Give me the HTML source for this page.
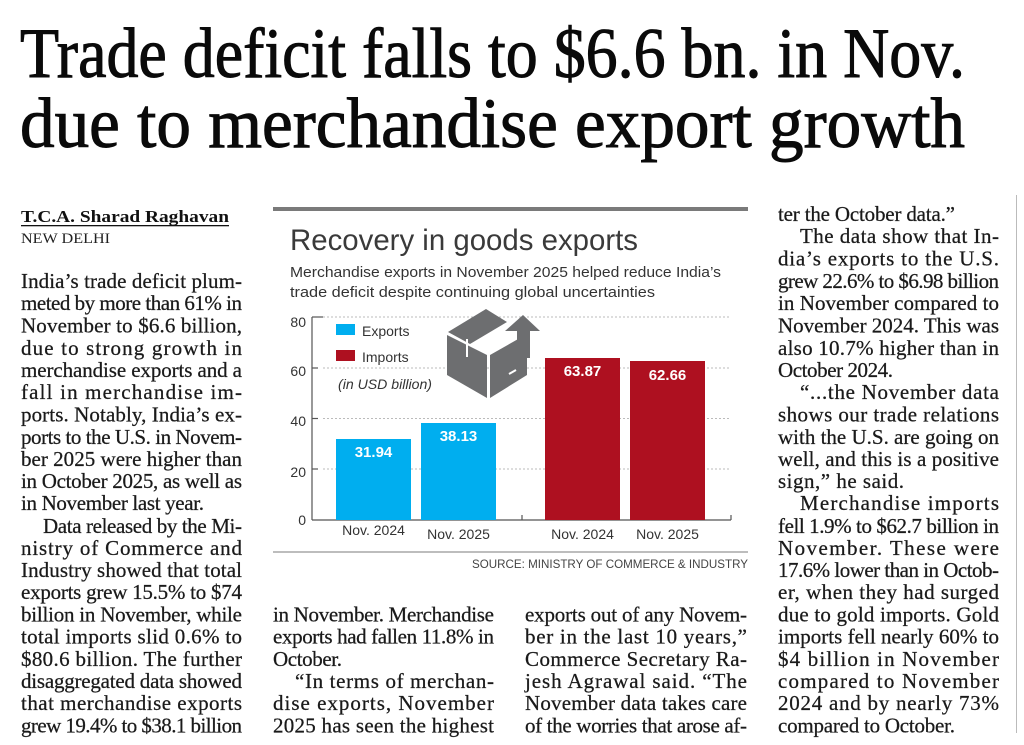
<!DOCTYPE html>
<html><head><meta charset="utf-8"><style>
html,body{margin:0;padding:0;background:#fff;}
svg{display:block;}
.b{font-family:"Liberation Serif",serif;font-size:21px;fill:#1a1a1a;stroke:#1a1a1a;stroke-width:0.25;}
.s{font-family:"Liberation Sans",sans-serif;}
</style></head><body>
<svg width="1024" height="745" viewBox="0 0 1024 745" xmlns="http://www.w3.org/2000/svg">
<rect width="1024" height="745" fill="#fff"/>
<!-- headline -->
<g font-family="Liberation Serif,serif" font-size="71" fill="#0a0a0a" stroke="#0a0a0a" stroke-width="1">
<text x="20" y="77" textLength="945" lengthAdjust="spacingAndGlyphs">Trade deficit falls to $6.6 bn. in Nov.</text>
<text x="20" y="147" textLength="945" lengthAdjust="spacingAndGlyphs">due to merchandise export growth</text>
</g>
<!-- byline -->
<text x="21" y="222" font-family="Liberation Serif,serif" font-weight="bold" font-size="17" fill="#111" textLength="208" lengthAdjust="spacingAndGlyphs">T.C.A. Sharad Raghavan</text>
<rect x="21" y="225" width="208" height="1.3" fill="#111"/>
<text x="21" y="243" font-family="Liberation Serif,serif" font-size="15" fill="#222" textLength="89" lengthAdjust="spacingAndGlyphs">NEW DELHI</text>
<!-- column rule -->
<rect x="1016" y="195" width="1" height="538" fill="#bbb"/>

<g class="b">
<!-- left column -->
<text x="21" y="288" textLength="221">India’s trade deficit plum-</text>
<text x="21" y="310" textLength="221">meted by more than 61% in</text>
<text x="21" y="332.5" textLength="221">November to $6.6 billion,</text>
<text x="21" y="355" textLength="221">due to strong growth in</text>
<text x="21" y="377" textLength="221">merchandise exports and a</text>
<text x="21" y="399" textLength="221">fall in merchandise im-</text>
<text x="21" y="421.5" textLength="221">ports. Notably, India’s ex-</text>
<text x="21" y="444" textLength="221">ports to the U.S. in Novem-</text>
<text x="21" y="466" textLength="221">ber 2025 were higher than</text>
<text x="21" y="488" textLength="221">in October 2025, as well as</text>
<text x="21" y="510" textLength="183">in November last year.</text>
<text x="43" y="533" textLength="199">Data released by the Mi-</text>
<text x="21" y="555" textLength="221">nistry of Commerce and</text>
<text x="21" y="577" textLength="221">Industry showed that total</text>
<text x="21" y="599" textLength="221">exports grew 15.5% to $74</text>
<text x="21" y="621.5" textLength="221">billion in November, while</text>
<text x="21" y="643.5" textLength="221">total imports slid 0.6% to</text>
<text x="21" y="666" textLength="221">$80.6 billion. The further</text>
<text x="21" y="688" textLength="221">disaggregated data showed</text>
<text x="21" y="710" textLength="221">that merchandise exports</text>
<text x="21" y="732.5" textLength="221">grew 19.4% to $38.1 billion</text>
<!-- middle col 1 -->
<text x="273" y="621.5" textLength="221">in November. Merchandise</text>
<text x="273" y="643.5" textLength="221">exports had fallen 11.8% in</text>
<text x="273" y="666" textLength="69">October.</text>
<text x="295" y="688" textLength="199">“In terms of merchan-</text>
<text x="273" y="710" textLength="221">dise exports, November</text>
<text x="273" y="732.5" textLength="221">2025 has seen the highest</text>
<!-- middle col 2 -->
<text x="525" y="621.5" textLength="222">exports out of any Novem-</text>
<text x="525" y="643.5" textLength="222">ber in the last 10 years,”</text>
<text x="525" y="666" textLength="222">Commerce Secretary Ra-</text>
<text x="525" y="688" textLength="222">jesh Agrawal said. “The</text>
<text x="525" y="710" textLength="222">November data takes care</text>
<text x="525" y="732.5" textLength="222">of the worries that arose af-</text>
<!-- right column -->
<text x="778" y="221" textLength="177">ter the October data.”</text>
<text x="800" y="243" textLength="199">The data show that In-</text>
<text x="778" y="265.5" textLength="221">dia’s exports to the U.S.</text>
<text x="778" y="288" textLength="221">grew 22.6% to $6.98 billion</text>
<text x="778" y="310" textLength="221">in November compared to</text>
<text x="778" y="332.5" textLength="221">November 2024. This was</text>
<text x="778" y="355" textLength="221">also 10.7% higher than in</text>
<text x="778" y="377" textLength="115">October 2024.</text>
<text x="800" y="399" textLength="199">“...the November data</text>
<text x="778" y="421.5" textLength="221">shows our trade relations</text>
<text x="778" y="444" textLength="221">with the U.S. are going on</text>
<text x="778" y="466" textLength="221">well, and this is a positive</text>
<text x="778" y="488" textLength="126">sign,” he said.</text>
<text x="800" y="510" textLength="199">Merchandise imports</text>
<text x="778" y="533" textLength="221">fell 1.9% to $62.7 billion in</text>
<text x="778" y="555" textLength="221">November. These were</text>
<text x="778" y="577" textLength="221">17.6% lower than in Octob-</text>
<text x="778" y="599" textLength="221">er, when they had surged</text>
<text x="778" y="621.5" textLength="221">due to gold imports. Gold</text>
<text x="778" y="643.5" textLength="221">imports fell nearly 60% to</text>
<text x="778" y="666" textLength="221">$4 billion in November</text>
<text x="778" y="688" textLength="221">compared to November</text>
<text x="778" y="710" textLength="221">2024 and by nearly 73%</text>
<text x="778" y="732.5" textLength="177">compared to October.</text>
</g>

<!-- chart -->
<rect x="273" y="207" width="475" height="4" fill="#7a7a7a"/>
<text class="s" x="290" y="250" font-size="30" fill="#3a3a3a" textLength="348" lengthAdjust="spacingAndGlyphs">Recovery in goods exports</text>
<text class="s" x="290" y="277" font-size="14.5" fill="#333" textLength="431" lengthAdjust="spacingAndGlyphs">Merchandise exports in November 2025 helped reduce India’s</text>
<text class="s" x="290" y="297" font-size="14.5" fill="#333" textLength="365" lengthAdjust="spacingAndGlyphs">trade deficit despite continuing global uncertainties</text>
<!-- grid -->
<g stroke="#bbb" stroke-width="1" stroke-dasharray="2,2">
<line x1="323" y1="317" x2="731" y2="317"/>
<line x1="323" y1="368" x2="731" y2="368"/>
<line x1="323" y1="418.5" x2="731" y2="418.5"/>
<line x1="323" y1="469" x2="731" y2="469"/>
</g>
<g stroke="#555" stroke-width="1.2" fill="none">
<line x1="312" y1="317" x2="312" y2="520"/>
<line x1="312" y1="520" x2="731" y2="520"/>
<line x1="312" y1="317" x2="323" y2="317"/>
<line x1="312" y1="368" x2="318" y2="368"/>
<line x1="312" y1="418.5" x2="318" y2="418.5"/>
<line x1="312" y1="469" x2="318" y2="469"/>
<line x1="522" y1="515" x2="522" y2="520"/>
<line x1="731" y1="515" x2="731" y2="520"/>
</g>
<g class="s" font-size="14" fill="#333" text-anchor="end">
<text x="306" y="327">80</text>
<text x="306" y="376">60</text>
<text x="306" y="426">40</text>
<text x="306" y="477">20</text>
<text x="306" y="525">0</text>
</g>
<!-- bars -->
<rect x="336" y="439" width="75" height="81" fill="#00aeef"/>
<rect x="421" y="423" width="75" height="97" fill="#00aeef"/>
<rect x="545" y="358" width="75" height="162" fill="#ae1020"/>
<rect x="630" y="361" width="75" height="159" fill="#ae1020"/>
<g class="s" font-size="15" font-weight="bold" fill="#fff" text-anchor="middle">
<text x="373.5" y="457">31.94</text>
<text x="458.5" y="441">38.13</text>
<text x="582.5" y="376">63.87</text>
<text x="667.5" y="380">62.66</text>
</g>
<g class="s" font-size="14" fill="#333" text-anchor="middle">
<text x="373.5" y="535">Nov. 2024</text>
<text x="458.5" y="539">Nov. 2025</text>
<text x="582.5" y="539">Nov. 2024</text>
<text x="667.5" y="539">Nov. 2025</text>
</g>
<!-- legend -->
<rect x="336" y="324" width="19" height="11" fill="#00aeef"/>
<rect x="336" y="350" width="19" height="11" fill="#ae1020"/>
<text class="s" x="362" y="336" font-size="14" fill="#333">Exports</text>
<text class="s" x="362" y="362" font-size="14" fill="#333">Imports</text>
<text class="s" x="338" y="389" font-size="13.5" font-style="italic" fill="#333" textLength="94" lengthAdjust="spacingAndGlyphs">(in USD billion)</text>
<!-- box icon -->
<g fill="#6d6e70">
<polygon points="448,332 486,309 507,322 470,344"/>
<polygon points="447,335 447,375 487,398 487,355"/>
<polygon points="490,355 527,334 527,375 490,398"/>
<polygon points="505,331 523,315 540,331 530,331 530,358 517,358 517,331"/>
</g>
<g stroke="#fff" stroke-width="2">
<line x1="467" y1="339" x2="467" y2="357"/>
<line x1="509" y1="374" x2="516" y2="370"/>
<line x1="487" y1="355" x2="490" y2="355"/>
</g>
<!-- bottom rule + source -->
<rect x="273" y="551" width="475" height="2" fill="#bdbdbd"/>
<text class="s" x="748" y="568" font-size="12" fill="#444" text-anchor="end" textLength="276" lengthAdjust="spacingAndGlyphs">SOURCE: MINISTRY OF COMMERCE &amp; INDUSTRY</text>
</svg>
</body></html>
